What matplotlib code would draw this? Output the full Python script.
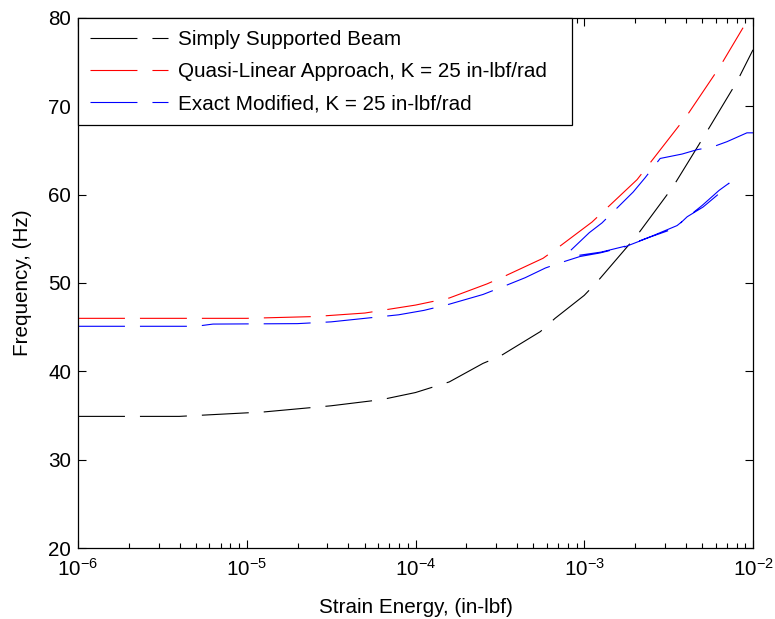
import numpy as np
import matplotlib
matplotlib.use("Agg")
import matplotlib.pyplot as plt
from matplotlib.ticker import LogLocator, NullFormatter, FixedLocator

# ---- data (x given as log10 exponents of strain energy) ----
black_logx = [-6.0, -5.4, -5.2, -4.9, -4.5, -4.2, -4.0, -3.8, -3.6, -3.5, -3.26, -3.173,
              -3.0, -2.925, -2.687, -2.474, -2.284, -2.095, -2.0]
black_freq = [34.9, 34.9, 35.1, 35.4, 36.1, 36.8, 37.6, 38.8, 40.9, 41.7, 44.5, 46.0,
              48.6, 50.1, 55.4, 60.9, 66.8, 72.8, 76.4]

red_logx = [-6.0, -5.0, -4.6, -4.3, -4.0, -3.8, -3.576, -3.48, -3.244, -3.156, -2.954,
            -2.687, -2.39, -2.196, -2.059]
red_freq = [46.0, 46.0, 46.2, 46.6, 47.5, 48.3, 49.9, 50.7, 52.8, 54.0, 56.9,
            61.7, 69.0, 74.5, 78.9]

# blue: one traced path (left part -> lower branch -> back -> upper branch)
blue_logx = [-6.0, -5.3, -5.2, -4.7, -4.5, -4.3, -4.1, -3.95, -3.8, -3.6, -3.48, -3.35,
             -3.23, -3.14, -3.025, -2.907, -2.758, -2.61, -2.462, -2.39, -2.296, -2.196,
             -2.142,
             -2.2, -2.3, -2.45, -2.6, -2.75, -2.9, -3.08,
             -3.08, -2.97, -2.895, -2.71, -2.64, -2.55, -2.42, -2.33, -2.24, -2.154,
             -2.036, -2.0]
blue_freq = [45.1, 45.1, 45.35, 45.4, 45.6, 46.0, 46.4, 46.9, 47.6, 48.7, 49.6, 50.6,
             51.7, 52.3, 53.0, 53.4, 54.1, 55.2, 56.2, 57.5, 58.6, 60.2,
             61.3,
             60.5, 58.8, 56.5, 55.3, 54.2, 53.5, 53.0,
             53.7, 55.7, 56.8, 60.3, 61.9, 64.1, 64.6, 65.1, 65.4, 66.0,
             67.0, 67.0]

labels = ["Simply Supported Beam",
          "Quasi-Linear Approach, K = 25 in-lbf/rad",
          "Exact Modified, K = 25 in-lbf/rad"]
colors = ["#000000", "#ff0000", "#0000ff"]

yticks = [20, 30, 40, 50, 60, 70, 80]

# ---- style ----
plt.rcParams['font.family'] = ['Liberation Sans', 'DejaVu Sans']
plt.rcParams['mathtext.fontset'] = 'custom'
plt.rcParams['mathtext.rm'] = 'Liberation Sans'
plt.rcParams['mathtext.it'] = 'Liberation Sans'
plt.rcParams['mathtext.default'] = 'regular'
plt.rcParams['lines.scale_dashes'] = False

FS = 14.9
fig = plt.figure(figsize=(7.75, 6.19), dpi=100)
ax = fig.add_axes([78/775, 1 - 548/619, (753 - 78)/775, (548 - 18)/619])

dash = (0, (33.8, 10.8))
series = [(black_logx, black_freq), (red_logx, red_freq), (blue_logx, blue_freq)]
handles = []
for (lx, fy), c, lab in zip(series, colors, labels):
    h, = ax.plot(10.0 ** np.array(lx), fy, color=c, lw=0.8, linestyle=dash, label=lab)
    handles.append(h)

ax.set_xscale('log')
ax.set_xlim(1e-6, 1e-2)
ax.set_ylim(20, 80)
ax.yaxis.set_major_locator(FixedLocator(yticks))
ax.xaxis.set_major_locator(LogLocator(base=10, numticks=10))
ax.xaxis.set_minor_locator(LogLocator(base=10, subs=np.arange(2, 10), numticks=100))
ax.xaxis.set_minor_formatter(NullFormatter())

ax.tick_params(which='both', direction='in', top=True, right=True, labelsize=FS,
               width=0.8, color='black')
ax.tick_params(which='major', length=6)
ax.tick_params(which='minor', length=3.5)
ax.tick_params(axis='x', which='major', pad=7)
ax.tick_params(axis='y', which='major', pad=5)
for s in ax.spines.values():
    s.set_linewidth(0.9)

ax.set_xlabel("Strain Energy, (in-lbf)", fontsize=FS, labelpad=13)
ax.set_ylabel("Frequency, (Hz)", fontsize=FS, labelpad=12)

leg_w = (572 - 78) / 675
leg = ax.legend(handles=handles, labels=labels, loc='upper left',
                bbox_to_anchor=(0, 0, leg_w, 1), mode='expand',
                borderaxespad=0, fontsize=FS, fancybox=False, framealpha=1,
                edgecolor='black', handlelength=3.8, handletextpad=0.45,
                labelspacing=0.64, borderpad=0.57)
leg.get_frame().set_linewidth(0.9)
for lh, c in zip(leg.get_lines(), colors):
    lh.set_color(c)

fig.savefig("out.png", dpi=100)
